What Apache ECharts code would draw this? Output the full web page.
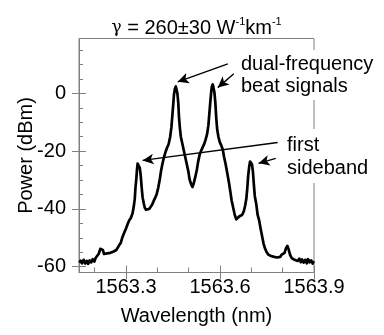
<!DOCTYPE html>
<html>
<head>
<meta charset="utf-8">
<script src="https://cdn.jsdelivr.net/npm/echarts@6/dist/echarts.min.js"></script>
<style>html,body{margin:0;padding:0;background:#fff;}#c{width:384px;height:335px;}</style>
</head>
<body>
<div id="c"></div>
<script>
const wavelength = [1563.151,1563.155,1563.160,1563.165,1563.170,1563.175,1563.179,1563.184,1563.189,1563.194,1563.199,1563.203,1563.208,1563.213,1563.218,1563.221,1563.226,1563.230,1563.235,1563.240,1563.245,1563.250,1563.254,1563.259,1563.264,1563.269,1563.274,1563.278,1563.283,1563.288,1563.293,1563.296,1563.301,1563.305,1563.310,1563.315,1563.318,1563.321,1563.325,1563.328,1563.330,1563.333,1563.335,1563.337,1563.340,1563.342,1563.344,1563.347,1563.350,1563.353,1563.357,1563.360,1563.364,1563.369,1563.374,1563.379,1563.384,1563.388,1563.393,1563.398,1563.403,1563.408,1563.412,1563.417,1563.422,1563.427,1563.431,1563.436,1563.441,1563.445,1563.448,1563.451,1563.453,1563.456,1563.459,1563.461,1563.464,1563.467,1563.469,1563.472,1563.475,1563.479,1563.484,1563.489,1563.494,1563.499,1563.503,1563.508,1563.512,1563.516,1563.521,1563.526,1563.530,1563.535,1563.540,1563.545,1563.550,1563.554,1563.559,1563.563,1563.566,1563.569,1563.572,1563.574,1563.577,1563.579,1563.582,1563.585,1563.588,1563.591,1563.595,1563.599,1563.604,1563.609,1563.613,1563.618,1563.623,1563.628,1563.633,1563.637,1563.642,1563.647,1563.652,1563.657,1563.661,1563.666,1563.671,1563.676,1563.680,1563.684,1563.687,1563.690,1563.693,1563.696,1563.699,1563.702,1563.705,1563.708,1563.711,1563.716,1563.720,1563.725,1563.730,1563.735,1563.739,1563.744,1563.749,1563.754,1563.759,1563.763,1563.768,1563.773,1563.778,1563.783,1563.787,1563.792,1563.797,1563.802,1563.806,1563.811,1563.815,1563.819,1563.824,1563.829,1563.834,1563.838,1563.843,1563.848,1563.853,1563.858,1563.862,1563.867,1563.872,1563.877,1563.881,1563.886,1563.891,1563.896,1563.899];
const power = [-58.6,-57.9,-58.8,-57.6,-58.9,-58.0,-59.0,-57.8,-58.5,-57.4,-58.2,-57.0,-56.8,-55.5,-53.8,-53.3,-54.2,-55.6,-56.2,-55.4,-56.0,-55.2,-55.6,-54.8,-54.9,-54.2,-53.8,-52.6,-51.8,-50.0,-48.6,-48.0,-46.5,-45.3,-44.0,-43.2,-42.4,-41.5,-39.0,-36.5,-33.0,-29.5,-26.5,-24.3,-23.7,-24.2,-25.8,-28.5,-32.5,-36.0,-38.2,-39.6,-40.3,-40.5,-40.0,-39.2,-38.4,-37.3,-36.2,-34.8,-32.6,-29.6,-26.8,-24.0,-21.8,-20.0,-18.8,-17.6,-15.0,-11.7,-7.5,-3.5,-0.5,1.6,2.4,1.8,0.0,-3.5,-8.0,-12.0,-15.0,-17.0,-19.5,-22.0,-24.5,-27.0,-29.8,-31.5,-32.4,-31.2,-29.0,-26.5,-23.8,-21.2,-19.8,-18.6,-17.4,-16.0,-14.0,-11.0,-7.0,-3.0,0.5,2.4,3.1,2.6,0.5,-3.0,-8.5,-12.5,-15.0,-16.8,-18.0,-19.5,-22.0,-24.5,-27.5,-30.5,-34.0,-37.0,-39.5,-42.0,-43.6,-43.0,-42.6,-43.0,-42.0,-40.8,-39.0,-36.5,-33.0,-28.5,-25.5,-23.6,-23.3,-24.5,-27.0,-31.5,-35.5,-38.5,-42.0,-44.0,-47.0,-49.8,-52.0,-53.8,-55.0,-55.8,-55.4,-56.3,-55.8,-56.6,-56.0,-56.8,-56.2,-56.6,-55.8,-56.3,-55.2,-53.5,-52.8,-54.0,-56.0,-57.0,-56.4,-57.6,-57.0,-58.0,-57.2,-58.4,-57.5,-58.6,-57.6,-58.8,-57.4,-58.5,-57.8,-58.9,-58.0];
const xTickLabels = [1563.3, 1563.6, 1563.9];
const xMinorTicks = [1563.2, 1563.4, 1563.5, 1563.7, 1563.8];
const yTickLabels = [-60, -40, -20, 0];
const yMinorTicks = [-55, -50, -45, -35, -30, -25, -15, -10, -5, 5, 10, 15];

const FONT = 'Liberation Sans, Arial, sans-serif';
const AX = '#808080';
const chart = echarts.init(document.getElementById('c'), null, {renderer: 'canvas'});
const seriesData = wavelength.map((w, i) => [w, power[i]]);

function xAx(extra) {
  return Object.assign({
    type: 'value', min: 1563.15, max: 1563.9, position: 'bottom',
    splitLine: {show: false},
    axisLine: {show: false, onZero: false},
    axisLabel: {show: false},
    axisTick: {show: false}
  }, extra);
}
function yAx(extra) {
  return Object.assign({
    type: 'value', min: -62, max: 19, position: 'left',
    splitLine: {show: false},
    axisLine: {show: false, onZero: false},
    axisLabel: {show: false},
    axisTick: {show: false}
  }, extra);
}

const option = {
  animation: false,
  backgroundColor: '#fff',
  grid: {left: 79, top: 38.5, width: 235, height: 234, show: true, borderColor: AX, borderWidth: 1, backgroundColor: 'transparent'},
  xAxis: [
    xAx({
      axisLine: {show: true, onZero: false, lineStyle: {color: AX, width: 1}},
      axisTick: {show: true, inside: false, length: 7, customValues: xTickLabels, lineStyle: {color: AX}},
      axisLabel: {show: true, customValues: xTickLabels, formatter: v => v.toFixed(1), margin: 5, fontSize: 20, fontFamily: FONT, color: '#000'},
      name: 'Wavelength (nm)', nameLocation: 'middle', nameGap: 34, nameMoveOverlap: false,
      nameTextStyle: {fontSize: 20, fontFamily: FONT, color: '#000'}
    }),
    xAx({axisTick: {show: true, inside: true, length: 7, customValues: xTickLabels, lineStyle: {color: AX}}}),
    xAx({axisTick: {show: true, inside: true, length: 5, customValues: xMinorTicks, lineStyle: {color: AX}}})
  ],
  yAxis: [
    yAx({
      axisLine: {show: true, onZero: false, lineStyle: {color: AX, width: 1}},
      axisTick: {show: true, inside: false, length: 7, customValues: yTickLabels, lineStyle: {color: AX}},
      axisLabel: {show: true, customValues: yTickLabels, margin: 13, fontSize: 20, fontFamily: FONT, color: '#000'},
      name: 'Power (dBm)', nameLocation: 'middle', nameGap: 43, nameMoveOverlap: false,
      nameTextStyle: {fontSize: 20, fontFamily: FONT, color: '#000'}
    }),
    yAx({axisTick: {show: true, inside: true, length: 7, customValues: yTickLabels, lineStyle: {color: AX}}}),
    yAx({axisTick: {show: true, inside: true, length: 4, customValues: yMinorTicks, lineStyle: {color: AX}}})
  ],
  series: [{
    type: 'line',
    xAxisIndex: 0, yAxisIndex: 0,
    data: seriesData,
    showSymbol: false,
    symbol: 'none',
    lineStyle: {color: '#000', width: 2.7, join: 'round'},
    z: 3,
    markLine: {
      silent: true,
      symbol: ['none', 'arrow'],
      symbolSize: [8, 11],
      label: {show: false},
      lineStyle: {color: '#000', width: 1.4, type: 'solid'},
      emphasis: {disabled: true},
      data: [
        [{coord: [1563.625, 10.2]}, {coord: [1563.465, 4.0]}],
        [{coord: [1563.644, 6.8]}, {coord: [1563.593, 2.0]}],
        [{coord: [1563.784, -17.0]}, {coord: [1563.353, -23.2]}],
        [{coord: [1563.778, -22.5]}, {coord: [1563.723, -24.2]}]
      ]
    }
  }],
  graphic: [
    {
      type: 'text', x: 196.6, y: 28, z: 100,
      style: {
        text: '{g|γ}{n| = 260±30 W}{s|-1}{n|km}{s|-1}',
        align: 'center', verticalAlign: 'middle',
        rich: {
          g: {fontSize: 17, fontFamily: 'DejaVu Serif, serif', fill: '#000', lineHeight: 24},
          n: {fontSize: 20, fontFamily: FONT, fill: '#000', lineHeight: 24},
          s: {fontSize: 11, fontFamily: FONT, fill: '#000', lineHeight: 11, verticalAlign: 'top'}
        }
      }
    },
    {
      type: 'text', x: 239, y: 50, z: 100,
      style: {
        text: 'dual-frequency\nbeat signals', font: '20px ' + FONT, fill: '#000',
        lineHeight: 22, backgroundColor: '#fff', padding: [3, 2, 3, 2],
        align: 'left', verticalAlign: 'top'
      }
    },
    {
      type: 'text', x: 285, y: 129, z: 100,
      style: {
        text: 'first\nsideband', font: '20px ' + FONT, fill: '#000',
        lineHeight: 23, backgroundColor: '#fff', padding: [5, 2, 3, 2],
        align: 'left', verticalAlign: 'top'
      }
    }
  ]
};
chart.setOption(option);
</script>
</body>
</html>
